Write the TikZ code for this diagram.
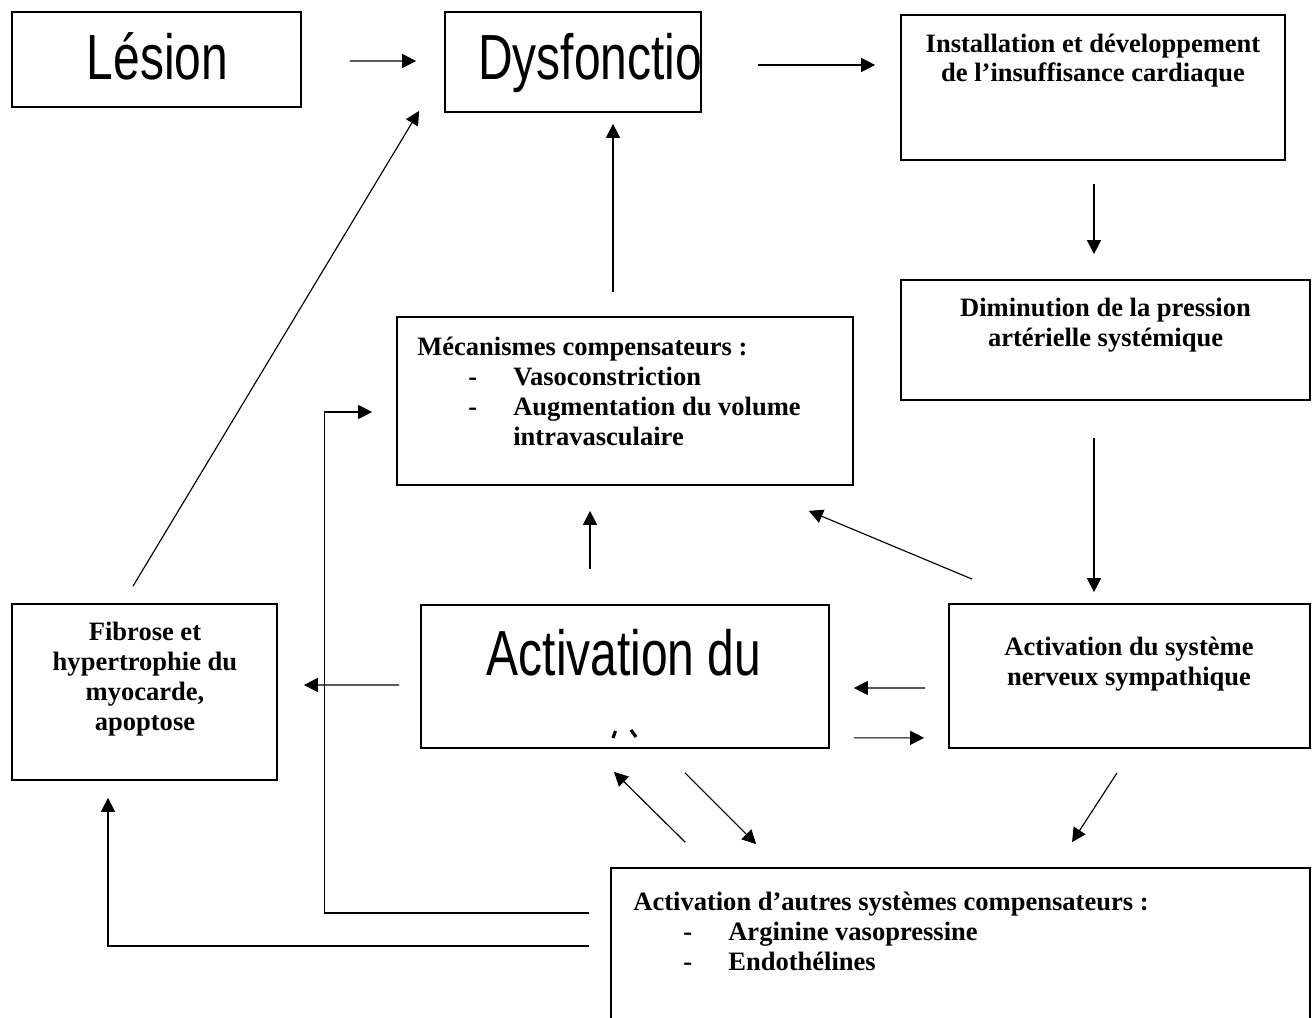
\documentclass[tikz,border=0pt]{standalone}
\usepackage{fontspec}
\setmainfont{Liberation Serif}
\newfontfamily\arialf{Liberation Sans}
\usetikzlibrary{arrows.meta}
\begin{document}
\begin{tikzpicture}[x=0.02cm,y=-0.02cm,
  box/.style={draw, line width=1pt, inner sep=0pt},
  big/.style={inner sep=0pt, font=\arialf\fontsize{27.3}{30}\selectfont},
  txt/.style={inner sep=0pt, font=\bfseries\fontsize{15.1}{17}\selectfont},
  arr/.style={line width=0.65pt, -{Triangle[length=0.28cm,width=0.28cm]}}]
\useasboundingbox (0,0) rectangle (1314,1017);
% boxes
\node[box, minimum width=5.78cm, minimum height=1.9cm] (les) at (156.5,59.5) {};
\node[box, minimum width=5.12cm, minimum height=2.0cm] (dys) at (573,62) {};
\node[box, minimum width=7.68cm, minimum height=2.9cm] (ins) at (1093,87.5) {};
\node[box, minimum width=8.18cm, minimum height=2.4cm] (dim) at (1105.5,340) {};
\node[box, minimum width=9.12cm, minimum height=3.36cm] (mec) at (625,401) {};
\node[box, minimum width=8.16cm, minimum height=2.86cm] (act) at (625,676.5) {};
\node[box, minimum width=7.22cm, minimum height=2.88cm] (sns) at (1129.5,676) {};
\node[box, minimum width=5.30cm, minimum height=3.52cm] (fib) at (144.5,692) {};
\node[box, minimum width=13.98cm, minimum height=3.44cm] (aut) at (960.5,954) {};
% texts (base anchor = baseline of last line)
\node[big, anchor=base] (les-t) at (157.5,80) {\scalebox{1}[1.33]{Lésion}};
\node[big, anchor=base west] (dys-t) at (478,80) {\scalebox{1}[1.33]{Dysfonctio}};
\node[big, anchor=base] (act-t) at (624,675) {\scalebox{1}[1.33]{Activation du}};
\node[txt, anchor=base, align=center] (ins-t) at (1093,82) {Installation et développement\\de l’insuffisance cardiaque};
\node[txt, anchor=base, align=center] (dim-t) at (1105.5,346) {Diminution de la pression\\artérielle systémique};
\node[txt, anchor=base west, align=left] (mec-t) at (417,445) {Mécanismes compensateurs :\\
\hspace*{1.02cm}\makebox[0.9cm][l]{-}Vasoconstriction\\
\hspace*{1.02cm}\makebox[0.9cm][l]{-}Augmentation du volume\\
\hspace*{1.92cm}intravasculaire};
\node[txt, anchor=base, align=center] (sns-t) at (1129,685) {Activation du système\\nerveux sympathique};
\node[txt, anchor=base, align=center] (fib-t) at (145,730) {Fibrose et\\hypertrophie du\\myocarde,\\apoptose};
\node[txt, anchor=base west, align=left] (aut-t) at (633,970) {Activation d’autres systèmes compensateurs :\\
\hspace*{1.0cm}\makebox[0.9cm][l]{-}Arginine vasopressine\\
\hspace*{1.0cm}\makebox[0.9cm][l]{-}Endothélines};
% clipped glyph fragments
\draw[line width=1.8pt] (613,738) -- (615.5,731);
\draw[line width=1.8pt] (631,730) -- (636,737);
% connectors
\draw[arr] ([shift={(48,1.5)}]les.east) -- ([shift={(-28,-1)}]dys.west);
\draw[arr] ([shift={(56,3)}]dys.east) -- ([shift={(-25,-22.5)}]ins.west);
\draw[arr] ([shift={(1,23)}]ins.south) -- ([shift={(-11.5,-25)}]dim.north);
\draw[arr] ([shift={(-11.5,37)}]dim.south) -- ([shift={(-35.5,-11)}]sns.north);
\draw[arr] ([shift={(-12,-24)}]mec.north) -- ([shift={(40,11)}]dys.south);
\draw[arr] ([shift={(-11.5,-17)}]fib.north) -- ([shift={(-25,-2)}]dys.south west);
\draw[arr] ([shift={(-35,-35)}]act.north) -- ([shift={(-35,25)}]mec.south);
\draw[arr] ([shift={(24,-24)}]sns.north west) -- ([shift={(-45,25)}]mec.south east);
\draw[arr] ([shift={(-23,12)}]sns.west) -- ([shift={(24,11.5)}]act.east);
\draw[arr] ([shift={(24,-11)}]act.south east) -- ([shift={(-24,-11)}]sns.south west);
\draw[arr] ([shift={(-21,8.5)}]act.west) -- ([shift={(26,-7)}]fib.east);
\draw[arr] ([shift={(75,-25)}]aut.north west) -- ([shift={(-11,23)}]act.south);
\draw[arr] ([shift={(60,24)}]act.south) -- ([shift={(146,-23)}]aut.north west);
\draw[arr] ([shift={(-12.5,24)}]sns.south) -- ([shift={(111.5,-25)}]aut.north);
\draw[arr] ([shift={(-21,-41)}]aut.west) -| ([shift={(-72,11)}]mec.west) -- ([shift={(-24,11)}]mec.west);
\draw[arr] ([shift={(-21,-8)}]aut.west) -| ([shift={(-36.5,17)}]fib.south);
\end{tikzpicture}
\end{document}
